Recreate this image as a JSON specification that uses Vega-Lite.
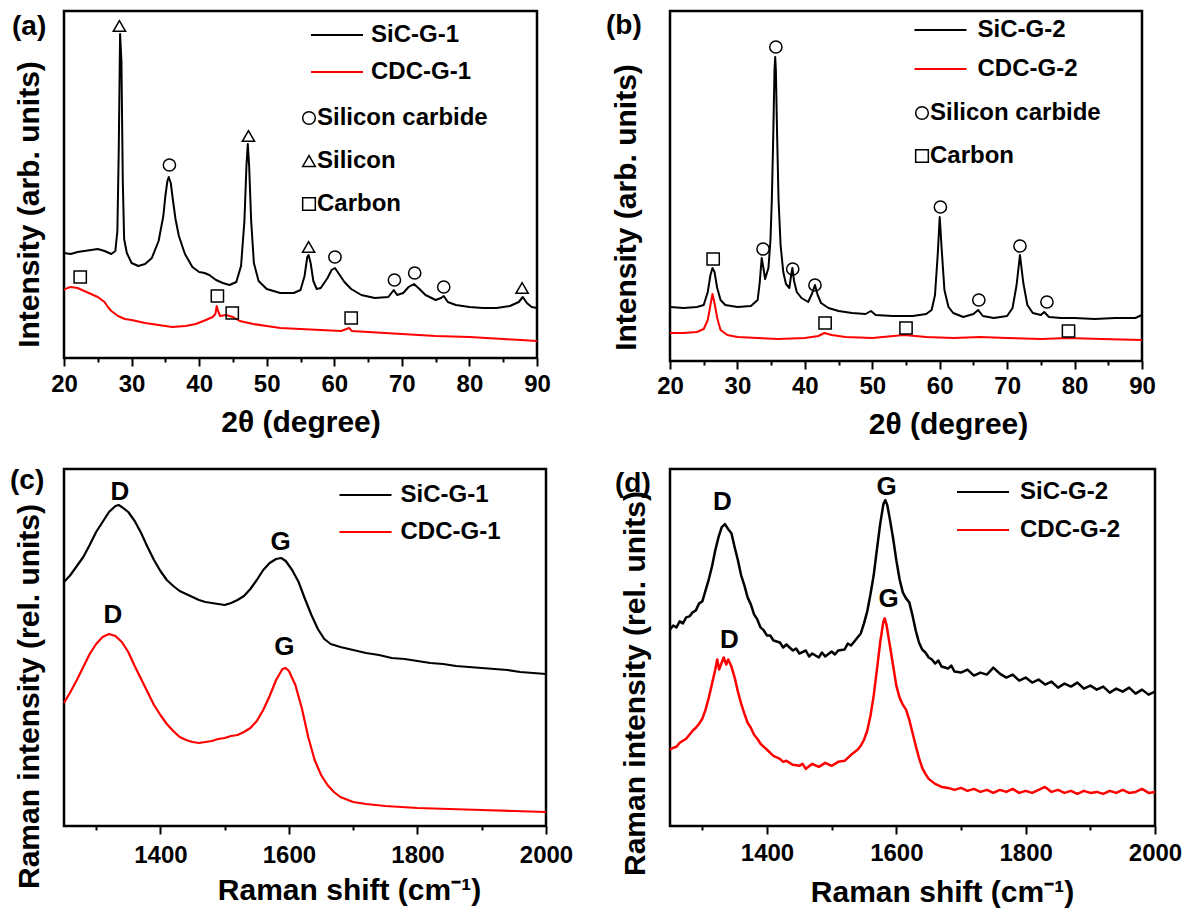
{
"$schema": "https://vega.github.io/schema/vega-lite/v6.json",
"autosize": {"type": "pad"},
"padding": {"left": 8, "top": 9, "right": 10, "bottom": 6},
"background": "white",
"config": {
 "view": {"stroke": "black", "strokeWidth": 2.5},
 "font": "Liberation Sans",
 "axis": {"grid": false, "domain": false, "labelFont": "Liberation Sans", "titleFont": "Liberation Sans", "labelColor": "black", "titleColor": "black", "tickColor": "black", "labelFontWeight": "bold", "titleFontWeight": "bold", "labelFontSize": 24, "titleFontSize": 30, "tickWidth": 2},
 "legend": {"labelFont": "Liberation Sans", "labelFontSize": 24, "labelFontWeight": "bold", "labelColor": "black", "padding": 0, "orient": "none", "labelLimit": 400},
 "title": {"font": "Liberation Sans", "fontSize": 28, "fontWeight": "bold", "color": "black", "anchor": "start", "frame": "group", "offset": 0, "baseline": "alphabetic"}
},
"datasets": {
 "xrdA": [
  {"x":20,"y":105,"s":"SiC-G-1"},{"x":21,"y":104,"s":"SiC-G-1"},{"x":22,"y":106,"s":"SiC-G-1"},{"x":23,"y":107,"s":"SiC-G-1"},{"x":24,"y":108,"s":"SiC-G-1"},{"x":25,"y":109,"s":"SiC-G-1"},{"x":26,"y":107,"s":"SiC-G-1"},{"x":27,"y":104,"s":"SiC-G-1"},{"x":27.6,"y":107,"s":"SiC-G-1"},{"x":27.9,"y":127,"s":"SiC-G-1"},{"x":28.1,"y":207,"s":"SiC-G-1"},{"x":28.3,"y":324,"s":"SiC-G-1"},{"x":28.5,"y":297,"s":"SiC-G-1"},{"x":28.7,"y":177,"s":"SiC-G-1"},{"x":28.9,"y":119,"s":"SiC-G-1"},{"x":29.3,"y":105,"s":"SiC-G-1"},{"x":30,"y":95,"s":"SiC-G-1"},{"x":31,"y":92,"s":"SiC-G-1"},{"x":32,"y":94,"s":"SiC-G-1"},{"x":33,"y":100,"s":"SiC-G-1"},{"x":34,"y":117,"s":"SiC-G-1"},{"x":34.7,"y":142,"s":"SiC-G-1"},{"x":35.0,"y":162,"s":"SiC-G-1"},{"x":35.3,"y":177,"s":"SiC-G-1"},{"x":35.5,"y":181,"s":"SiC-G-1"},{"x":35.8,"y":175,"s":"SiC-G-1"},{"x":36.1,"y":159,"s":"SiC-G-1"},{"x":36.5,"y":139,"s":"SiC-G-1"},{"x":37,"y":122,"s":"SiC-G-1"},{"x":37.9,"y":104,"s":"SiC-G-1"},{"x":39,"y":91,"s":"SiC-G-1"},{"x":40,"y":86,"s":"SiC-G-1"},{"x":40.8,"y":85,"s":"SiC-G-1"},{"x":41.5,"y":83,"s":"SiC-G-1"},{"x":42.5,"y":78,"s":"SiC-G-1"},{"x":43.5,"y":75,"s":"SiC-G-1"},{"x":44.5,"y":73,"s":"SiC-G-1"},{"x":45.5,"y":76,"s":"SiC-G-1"},{"x":46.2,"y":92,"s":"SiC-G-1"},{"x":46.7,"y":137,"s":"SiC-G-1"},{"x":47.0,"y":192,"s":"SiC-G-1"},{"x":47.2,"y":214,"s":"SiC-G-1"},{"x":47.4,"y":192,"s":"SiC-G-1"},{"x":47.7,"y":137,"s":"SiC-G-1"},{"x":48.1,"y":95,"s":"SiC-G-1"},{"x":48.8,"y":77,"s":"SiC-G-1"},{"x":50,"y":69,"s":"SiC-G-1"},{"x":52,"y":65,"s":"SiC-G-1"},{"x":54,"y":65,"s":"SiC-G-1"},{"x":55,"y":68,"s":"SiC-G-1"},{"x":55.6,"y":82,"s":"SiC-G-1"},{"x":56.0,"y":101,"s":"SiC-G-1"},{"x":56.2,"y":103,"s":"SiC-G-1"},{"x":56.5,"y":95,"s":"SiC-G-1"},{"x":56.9,"y":77,"s":"SiC-G-1"},{"x":57.4,"y":69,"s":"SiC-G-1"},{"x":58,"y":70,"s":"SiC-G-1"},{"x":59,"y":80,"s":"SiC-G-1"},{"x":59.6,"y":88,"s":"SiC-G-1"},{"x":60.1,"y":90,"s":"SiC-G-1"},{"x":60.7,"y":84,"s":"SiC-G-1"},{"x":61.5,"y":76,"s":"SiC-G-1"},{"x":62.5,"y":69,"s":"SiC-G-1"},{"x":64,"y":63,"s":"SiC-G-1"},{"x":66,"y":60,"s":"SiC-G-1"},{"x":68,"y":61,"s":"SiC-G-1"},{"x":68.8,"y":68,"s":"SiC-G-1"},{"x":69.3,"y":63,"s":"SiC-G-1"},{"x":70.2,"y":65,"s":"SiC-G-1"},{"x":71.0,"y":71,"s":"SiC-G-1"},{"x":71.8,"y":74,"s":"SiC-G-1"},{"x":72.6,"y":69,"s":"SiC-G-1"},{"x":73.5,"y":63,"s":"SiC-G-1"},{"x":75,"y":58,"s":"SiC-G-1"},{"x":75.8,"y":60,"s":"SiC-G-1"},{"x":76.2,"y":62,"s":"SiC-G-1"},{"x":76.8,"y":56,"s":"SiC-G-1"},{"x":78,"y":53,"s":"SiC-G-1"},{"x":80,"y":51,"s":"SiC-G-1"},{"x":82,"y":50,"s":"SiC-G-1"},{"x":84,"y":50,"s":"SiC-G-1"},{"x":86,"y":52,"s":"SiC-G-1"},{"x":87.3,"y":56,"s":"SiC-G-1"},{"x":87.9,"y":61,"s":"SiC-G-1"},{"x":88.5,"y":55,"s":"SiC-G-1"},{"x":89.2,"y":51,"s":"SiC-G-1"},{"x":90,"y":50,"s":"SiC-G-1"},
  {"x":20,"y":68,"s":"CDC-G-1"},{"x":20.5,"y":70,"s":"CDC-G-1"},{"x":21,"y":71,"s":"CDC-G-1"},{"x":22,"y":70,"s":"CDC-G-1"},{"x":23,"y":67,"s":"CDC-G-1"},{"x":24,"y":64,"s":"CDC-G-1"},{"x":25,"y":61,"s":"CDC-G-1"},{"x":26,"y":56,"s":"CDC-G-1"},{"x":26.5,"y":51,"s":"CDC-G-1"},{"x":27,"y":47,"s":"CDC-G-1"},{"x":28,"y":42,"s":"CDC-G-1"},{"x":29,"y":39,"s":"CDC-G-1"},{"x":30,"y":38,"s":"CDC-G-1"},{"x":32,"y":35,"s":"CDC-G-1"},{"x":34,"y":33,"s":"CDC-G-1"},{"x":36,"y":31,"s":"CDC-G-1"},{"x":38,"y":32,"s":"CDC-G-1"},{"x":39.5,"y":34,"s":"CDC-G-1"},{"x":41,"y":38,"s":"CDC-G-1"},{"x":42,"y":41,"s":"CDC-G-1"},{"x":42.4,"y":44,"s":"CDC-G-1"},{"x":42.6,"y":52,"s":"CDC-G-1"},{"x":42.8,"y":47,"s":"CDC-G-1"},{"x":43.1,"y":42,"s":"CDC-G-1"},{"x":44,"y":43,"s":"CDC-G-1"},{"x":45,"y":41,"s":"CDC-G-1"},{"x":46,"y":37,"s":"CDC-G-1"},{"x":48,"y":34,"s":"CDC-G-1"},{"x":50,"y":32,"s":"CDC-G-1"},{"x":52,"y":30,"s":"CDC-G-1"},{"x":55,"y":29,"s":"CDC-G-1"},{"x":58,"y":28,"s":"CDC-G-1"},{"x":61,"y":27,"s":"CDC-G-1"},{"x":62.2,"y":30,"s":"CDC-G-1"},{"x":62.6,"y":27,"s":"CDC-G-1"},{"x":65,"y":26,"s":"CDC-G-1"},{"x":70,"y":24,"s":"CDC-G-1"},{"x":75,"y":22,"s":"CDC-G-1"},{"x":80,"y":21,"s":"CDC-G-1"},{"x":85,"y":19,"s":"CDC-G-1"},{"x":90,"y":17,"s":"CDC-G-1"}
 ],
 "mkA": [
  {"x":28.2,"y":332,"p":"Silicon"},{"x":47.3,"y":222,"p":"Silicon"},{"x":56.2,"y":111,"p":"Silicon"},{"x":87.8,"y":70,"p":"Silicon"},
  {"x":35.6,"y":193,"p":"Silicon carbide"},{"x":60.1,"y":101,"p":"Silicon carbide"},{"x":68.9,"y":78,"p":"Silicon carbide"},{"x":71.9,"y":85,"p":"Silicon carbide"},{"x":76.2,"y":71,"p":"Silicon carbide"},
  {"x":22.4,"y":81,"p":"Carbon"},{"x":42.7,"y":62,"p":"Carbon"},{"x":44.9,"y":45,"p":"Carbon"},{"x":62.5,"y":40,"p":"Carbon"}
 ],
 "xrdB": [
  {"x":20,"y":54,"s":"SiC-G-2"},{"x":22,"y":53,"s":"SiC-G-2"},{"x":24,"y":54,"s":"SiC-G-2"},{"x":25,"y":56,"s":"SiC-G-2"},{"x":25.6,"y":69,"s":"SiC-G-2"},{"x":26.0,"y":86,"s":"SiC-G-2"},{"x":26.3,"y":93,"s":"SiC-G-2"},{"x":26.6,"y":89,"s":"SiC-G-2"},{"x":27.0,"y":73,"s":"SiC-G-2"},{"x":27.5,"y":61,"s":"SiC-G-2"},{"x":28.2,"y":56,"s":"SiC-G-2"},{"x":30,"y":54,"s":"SiC-G-2"},{"x":32,"y":55,"s":"SiC-G-2"},{"x":33.0,"y":61,"s":"SiC-G-2"},{"x":33.3,"y":78,"s":"SiC-G-2"},{"x":33.6,"y":103,"s":"SiC-G-2"},{"x":33.9,"y":91,"s":"SiC-G-2"},{"x":34.1,"y":82,"s":"SiC-G-2"},{"x":34.6,"y":93,"s":"SiC-G-2"},{"x":34.9,"y":121,"s":"SiC-G-2"},{"x":35.1,"y":161,"s":"SiC-G-2"},{"x":35.3,"y":221,"s":"SiC-G-2"},{"x":35.5,"y":291,"s":"SiC-G-2"},{"x":35.6,"y":304,"s":"SiC-G-2"},{"x":35.7,"y":291,"s":"SiC-G-2"},{"x":35.9,"y":221,"s":"SiC-G-2"},{"x":36.1,"y":161,"s":"SiC-G-2"},{"x":36.4,"y":116,"s":"SiC-G-2"},{"x":36.8,"y":89,"s":"SiC-G-2"},{"x":37.2,"y":77,"s":"SiC-G-2"},{"x":37.7,"y":73,"s":"SiC-G-2"},{"x":37.95,"y":85,"s":"SiC-G-2"},{"x":38.15,"y":93,"s":"SiC-G-2"},{"x":38.4,"y":80,"s":"SiC-G-2"},{"x":38.8,"y":69,"s":"SiC-G-2"},{"x":39.5,"y":63,"s":"SiC-G-2"},{"x":40.5,"y":59,"s":"SiC-G-2"},{"x":41.1,"y":68,"s":"SiC-G-2"},{"x":41.5,"y":76,"s":"SiC-G-2"},{"x":41.9,"y":66,"s":"SiC-G-2"},{"x":42.4,"y":58,"s":"SiC-G-2"},{"x":43.5,"y":53,"s":"SiC-G-2"},{"x":45,"y":50,"s":"SiC-G-2"},{"x":47,"y":48,"s":"SiC-G-2"},{"x":49,"y":47,"s":"SiC-G-2"},{"x":49.8,"y":50,"s":"SiC-G-2"},{"x":50.5,"y":46,"s":"SiC-G-2"},{"x":53,"y":45,"s":"SiC-G-2"},{"x":56,"y":45,"s":"SiC-G-2"},{"x":58.0,"y":47,"s":"SiC-G-2"},{"x":58.8,"y":51,"s":"SiC-G-2"},{"x":59.3,"y":66,"s":"SiC-G-2"},{"x":59.7,"y":106,"s":"SiC-G-2"},{"x":60.0,"y":144,"s":"SiC-G-2"},{"x":60.3,"y":111,"s":"SiC-G-2"},{"x":60.7,"y":71,"s":"SiC-G-2"},{"x":61.3,"y":54,"s":"SiC-G-2"},{"x":62,"y":48,"s":"SiC-G-2"},{"x":63.5,"y":44,"s":"SiC-G-2"},{"x":65.0,"y":47,"s":"SiC-G-2"},{"x":65.7,"y":51,"s":"SiC-G-2"},{"x":66.4,"y":45,"s":"SiC-G-2"},{"x":68,"y":43,"s":"SiC-G-2"},{"x":70,"y":45,"s":"SiC-G-2"},{"x":70.8,"y":53,"s":"SiC-G-2"},{"x":71.4,"y":76,"s":"SiC-G-2"},{"x":71.9,"y":106,"s":"SiC-G-2"},{"x":72.4,"y":78,"s":"SiC-G-2"},{"x":73.0,"y":56,"s":"SiC-G-2"},{"x":73.8,"y":48,"s":"SiC-G-2"},{"x":75.0,"y":46,"s":"SiC-G-2"},{"x":75.5,"y":49,"s":"SiC-G-2"},{"x":76.2,"y":44,"s":"SiC-G-2"},{"x":78,"y":43,"s":"SiC-G-2"},{"x":80,"y":43,"s":"SiC-G-2"},{"x":83,"y":42,"s":"SiC-G-2"},{"x":86,"y":43,"s":"SiC-G-2"},{"x":89,"y":43,"s":"SiC-G-2"},{"x":90,"y":46,"s":"SiC-G-2"},
  {"x":20,"y":28,"s":"CDC-G-2"},{"x":22,"y":28,"s":"CDC-G-2"},{"x":24,"y":29,"s":"CDC-G-2"},{"x":25,"y":32,"s":"CDC-G-2"},{"x":25.6,"y":41,"s":"CDC-G-2"},{"x":26.0,"y":56,"s":"CDC-G-2"},{"x":26.3,"y":67,"s":"CDC-G-2"},{"x":26.6,"y":58,"s":"CDC-G-2"},{"x":27.0,"y":43,"s":"CDC-G-2"},{"x":27.5,"y":31,"s":"CDC-G-2"},{"x":28.5,"y":26,"s":"CDC-G-2"},{"x":30,"y":24,"s":"CDC-G-2"},{"x":33,"y":23,"s":"CDC-G-2"},{"x":36,"y":22,"s":"CDC-G-2"},{"x":40,"y":23,"s":"CDC-G-2"},{"x":42,"y":25,"s":"CDC-G-2"},{"x":42.9,"y":28,"s":"CDC-G-2"},{"x":44,"y":26,"s":"CDC-G-2"},{"x":46,"y":24,"s":"CDC-G-2"},{"x":50,"y":23,"s":"CDC-G-2"},{"x":54.7,"y":26,"s":"CDC-G-2"},{"x":58,"y":24,"s":"CDC-G-2"},{"x":62,"y":23,"s":"CDC-G-2"},{"x":66,"y":24,"s":"CDC-G-2"},{"x":70,"y":23,"s":"CDC-G-2"},{"x":75,"y":22,"s":"CDC-G-2"},{"x":79,"y":23,"s":"CDC-G-2"},{"x":84,"y":22,"s":"CDC-G-2"},{"x":90,"y":21,"s":"CDC-G-2"}
 ],
 "mkB": [
  {"x":26.4,"y":102,"p":"Carbon"},{"x":43.0,"y":38,"p":"Carbon"},{"x":55.0,"y":33,"p":"Carbon"},{"x":79.1,"y":30,"p":"Carbon"},
  {"x":33.8,"y":112,"p":"Silicon carbide"},{"x":35.7,"y":314,"p":"Silicon carbide"},{"x":38.2,"y":92,"p":"Silicon carbide"},{"x":41.5,"y":76,"p":"Silicon carbide"},{"x":60.1,"y":154,"p":"Silicon carbide"},{"x":65.8,"y":61,"p":"Silicon carbide"},{"x":71.9,"y":115,"p":"Silicon carbide"},{"x":75.9,"y":59,"p":"Silicon carbide"}
 ],
 "ramC": [
  {"x":1250,"y":244,"s":"SiC-G-1"},{"x":1260,"y":251,"s":"SiC-G-1"},{"x":1270,"y":260,"s":"SiC-G-1"},{"x":1280,"y":269,"s":"SiC-G-1"},{"x":1290,"y":281,"s":"SiC-G-1"},{"x":1300,"y":294,"s":"SiC-G-1"},{"x":1310,"y":304,"s":"SiC-G-1"},{"x":1320,"y":314,"s":"SiC-G-1"},{"x":1330,"y":320,"s":"SiC-G-1"},{"x":1335,"y":321,"s":"SiC-G-1"},{"x":1340,"y":319,"s":"SiC-G-1"},{"x":1350,"y":314,"s":"SiC-G-1"},{"x":1360,"y":305,"s":"SiC-G-1"},{"x":1370,"y":293,"s":"SiC-G-1"},{"x":1380,"y":279,"s":"SiC-G-1"},{"x":1390,"y":266,"s":"SiC-G-1"},{"x":1400,"y":255,"s":"SiC-G-1"},{"x":1410,"y":246,"s":"SiC-G-1"},{"x":1420,"y":240,"s":"SiC-G-1"},{"x":1430,"y":235,"s":"SiC-G-1"},{"x":1440,"y":232,"s":"SiC-G-1"},{"x":1450,"y":229,"s":"SiC-G-1"},{"x":1460,"y":226,"s":"SiC-G-1"},{"x":1470,"y":224,"s":"SiC-G-1"},{"x":1480,"y":223,"s":"SiC-G-1"},{"x":1490,"y":222,"s":"SiC-G-1"},{"x":1500,"y":221,"s":"SiC-G-1"},{"x":1510,"y":223,"s":"SiC-G-1"},{"x":1520,"y":226,"s":"SiC-G-1"},{"x":1530,"y":230,"s":"SiC-G-1"},{"x":1540,"y":237,"s":"SiC-G-1"},{"x":1550,"y":246,"s":"SiC-G-1"},{"x":1560,"y":256,"s":"SiC-G-1"},{"x":1570,"y":263,"s":"SiC-G-1"},{"x":1580,"y":267,"s":"SiC-G-1"},{"x":1588,"y":268,"s":"SiC-G-1"},{"x":1595,"y":265,"s":"SiC-G-1"},{"x":1605,"y":256,"s":"SiC-G-1"},{"x":1615,"y":244,"s":"SiC-G-1"},{"x":1625,"y":227,"s":"SiC-G-1"},{"x":1635,"y":211,"s":"SiC-G-1"},{"x":1645,"y":197,"s":"SiC-G-1"},{"x":1655,"y":187,"s":"SiC-G-1"},{"x":1665,"y":182,"s":"SiC-G-1"},{"x":1680,"y":179,"s":"SiC-G-1"},{"x":1700,"y":176,"s":"SiC-G-1"},{"x":1720,"y":173,"s":"SiC-G-1"},{"x":1740,"y":171,"s":"SiC-G-1"},{"x":1760,"y":168,"s":"SiC-G-1"},{"x":1780,"y":167,"s":"SiC-G-1"},{"x":1800,"y":165,"s":"SiC-G-1"},{"x":1820,"y":163,"s":"SiC-G-1"},{"x":1840,"y":162,"s":"SiC-G-1"},{"x":1860,"y":160,"s":"SiC-G-1"},{"x":1880,"y":159,"s":"SiC-G-1"},{"x":1900,"y":158,"s":"SiC-G-1"},{"x":1920,"y":157,"s":"SiC-G-1"},{"x":1940,"y":156,"s":"SiC-G-1"},{"x":1960,"y":154,"s":"SiC-G-1"},{"x":1980,"y":153,"s":"SiC-G-1"},{"x":2000,"y":152,"s":"SiC-G-1"},
  {"x":1250,"y":123,"s":"CDC-G-1"},{"x":1260,"y":134,"s":"CDC-G-1"},{"x":1270,"y":146,"s":"CDC-G-1"},{"x":1280,"y":159,"s":"CDC-G-1"},{"x":1290,"y":172,"s":"CDC-G-1"},{"x":1300,"y":182,"s":"CDC-G-1"},{"x":1310,"y":189,"s":"CDC-G-1"},{"x":1320,"y":192,"s":"CDC-G-1"},{"x":1330,"y":190,"s":"CDC-G-1"},{"x":1340,"y":184,"s":"CDC-G-1"},{"x":1350,"y":174,"s":"CDC-G-1"},{"x":1360,"y":160,"s":"CDC-G-1"},{"x":1370,"y":147,"s":"CDC-G-1"},{"x":1380,"y":134,"s":"CDC-G-1"},{"x":1390,"y":121,"s":"CDC-G-1"},{"x":1400,"y":111,"s":"CDC-G-1"},{"x":1410,"y":102,"s":"CDC-G-1"},{"x":1420,"y":95,"s":"CDC-G-1"},{"x":1430,"y":89,"s":"CDC-G-1"},{"x":1440,"y":86,"s":"CDC-G-1"},{"x":1450,"y":84,"s":"CDC-G-1"},{"x":1460,"y":83,"s":"CDC-G-1"},{"x":1470,"y":84,"s":"CDC-G-1"},{"x":1480,"y":85,"s":"CDC-G-1"},{"x":1490,"y":87,"s":"CDC-G-1"},{"x":1500,"y":88,"s":"CDC-G-1"},{"x":1510,"y":90,"s":"CDC-G-1"},{"x":1520,"y":91,"s":"CDC-G-1"},{"x":1530,"y":94,"s":"CDC-G-1"},{"x":1540,"y":98,"s":"CDC-G-1"},{"x":1550,"y":105,"s":"CDC-G-1"},{"x":1560,"y":116,"s":"CDC-G-1"},{"x":1570,"y":130,"s":"CDC-G-1"},{"x":1580,"y":146,"s":"CDC-G-1"},{"x":1590,"y":157,"s":"CDC-G-1"},{"x":1595,"y":158,"s":"CDC-G-1"},{"x":1600,"y":155,"s":"CDC-G-1"},{"x":1610,"y":141,"s":"CDC-G-1"},{"x":1620,"y":118,"s":"CDC-G-1"},{"x":1630,"y":89,"s":"CDC-G-1"},{"x":1640,"y":66,"s":"CDC-G-1"},{"x":1650,"y":51,"s":"CDC-G-1"},{"x":1660,"y":41,"s":"CDC-G-1"},{"x":1670,"y":34,"s":"CDC-G-1"},{"x":1680,"y":29,"s":"CDC-G-1"},{"x":1700,"y":24,"s":"CDC-G-1"},{"x":1720,"y":22,"s":"CDC-G-1"},{"x":1750,"y":20,"s":"CDC-G-1"},{"x":1800,"y":18,"s":"CDC-G-1"},{"x":1850,"y":17,"s":"CDC-G-1"},{"x":1900,"y":16,"s":"CDC-G-1"},{"x":1950,"y":15,"s":"CDC-G-1"},{"x":2000,"y":14,"s":"CDC-G-1"}
 ],
 "pkC": [
  {"x":1337,"y":334,"t":"D"},{"x":1587,"y":284,"t":"G"},{"x":1326,"y":211,"t":"D"},{"x":1593,"y":179,"t":"G"}
 ],
 "ramD": [
  {"x":1250,"y":196,"s":"SiC-G-2"},{"x":1255,"y":200,"s":"SiC-G-2"},{"x":1260,"y":198,"s":"SiC-G-2"},{"x":1265,"y":204,"s":"SiC-G-2"},{"x":1270,"y":202,"s":"SiC-G-2"},{"x":1275,"y":208,"s":"SiC-G-2"},{"x":1280,"y":209,"s":"SiC-G-2"},{"x":1285,"y":213,"s":"SiC-G-2"},{"x":1290,"y":215,"s":"SiC-G-2"},{"x":1295,"y":222,"s":"SiC-G-2"},{"x":1300,"y":224,"s":"SiC-G-2"},{"x":1305,"y":235,"s":"SiC-G-2"},{"x":1310,"y":246,"s":"SiC-G-2"},{"x":1315,"y":259,"s":"SiC-G-2"},{"x":1320,"y":275,"s":"SiC-G-2"},{"x":1325,"y":288,"s":"SiC-G-2"},{"x":1330,"y":298,"s":"SiC-G-2"},{"x":1335,"y":301,"s":"SiC-G-2"},{"x":1340,"y":296,"s":"SiC-G-2"},{"x":1345,"y":292,"s":"SiC-G-2"},{"x":1350,"y":278,"s":"SiC-G-2"},{"x":1355,"y":265,"s":"SiC-G-2"},{"x":1360,"y":250,"s":"SiC-G-2"},{"x":1365,"y":240,"s":"SiC-G-2"},{"x":1370,"y":228,"s":"SiC-G-2"},{"x":1375,"y":221,"s":"SiC-G-2"},{"x":1380,"y":211,"s":"SiC-G-2"},{"x":1385,"y":206,"s":"SiC-G-2"},{"x":1390,"y":198,"s":"SiC-G-2"},{"x":1395,"y":195,"s":"SiC-G-2"},{"x":1400,"y":190,"s":"SiC-G-2"},{"x":1405,"y":190,"s":"SiC-G-2"},{"x":1410,"y":185,"s":"SiC-G-2"},{"x":1420,"y":183,"s":"SiC-G-2"},{"x":1425,"y":178,"s":"SiC-G-2"},{"x":1430,"y":181,"s":"SiC-G-2"},{"x":1440,"y":175,"s":"SiC-G-2"},{"x":1445,"y":177,"s":"SiC-G-2"},{"x":1450,"y":172,"s":"SiC-G-2"},{"x":1460,"y":175,"s":"SiC-G-2"},{"x":1465,"y":169,"s":"SiC-G-2"},{"x":1470,"y":172,"s":"SiC-G-2"},{"x":1480,"y":168,"s":"SiC-G-2"},{"x":1485,"y":173,"s":"SiC-G-2"},{"x":1490,"y":169,"s":"SiC-G-2"},{"x":1500,"y":174,"s":"SiC-G-2"},{"x":1505,"y":171,"s":"SiC-G-2"},{"x":1510,"y":175,"s":"SiC-G-2"},{"x":1520,"y":176,"s":"SiC-G-2"},{"x":1525,"y":182,"s":"SiC-G-2"},{"x":1530,"y":180,"s":"SiC-G-2"},{"x":1540,"y":188,"s":"SiC-G-2"},{"x":1545,"y":192,"s":"SiC-G-2"},{"x":1550,"y":202,"s":"SiC-G-2"},{"x":1555,"y":214,"s":"SiC-G-2"},{"x":1560,"y":231,"s":"SiC-G-2"},{"x":1565,"y":250,"s":"SiC-G-2"},{"x":1570,"y":276,"s":"SiC-G-2"},{"x":1575,"y":301,"s":"SiC-G-2"},{"x":1580,"y":321,"s":"SiC-G-2"},{"x":1583,"y":325,"s":"SiC-G-2"},{"x":1586,"y":320,"s":"SiC-G-2"},{"x":1590,"y":306,"s":"SiC-G-2"},{"x":1595,"y":287,"s":"SiC-G-2"},{"x":1600,"y":265,"s":"SiC-G-2"},{"x":1605,"y":246,"s":"SiC-G-2"},{"x":1610,"y":233,"s":"SiC-G-2"},{"x":1615,"y":227,"s":"SiC-G-2"},{"x":1620,"y":223,"s":"SiC-G-2"},{"x":1625,"y":210,"s":"SiC-G-2"},{"x":1630,"y":195,"s":"SiC-G-2"},{"x":1635,"y":183,"s":"SiC-G-2"},{"x":1640,"y":176,"s":"SiC-G-2"},{"x":1645,"y":173,"s":"SiC-G-2"},{"x":1650,"y":168,"s":"SiC-G-2"},{"x":1655,"y":166,"s":"SiC-G-2"},{"x":1660,"y":162,"s":"SiC-G-2"},{"x":1665,"y":165,"s":"SiC-G-2"},{"x":1670,"y":159,"s":"SiC-G-2"},{"x":1680,"y":157,"s":"SiC-G-2"},{"x":1685,"y":160,"s":"SiC-G-2"},{"x":1690,"y":154,"s":"SiC-G-2"},{"x":1700,"y":153,"s":"SiC-G-2"},{"x":1710,"y":156,"s":"SiC-G-2"},{"x":1720,"y":150,"s":"SiC-G-2"},{"x":1730,"y":153,"s":"SiC-G-2"},{"x":1740,"y":151,"s":"SiC-G-2"},{"x":1750,"y":158,"s":"SiC-G-2"},{"x":1755,"y":155,"s":"SiC-G-2"},{"x":1760,"y":152,"s":"SiC-G-2"},{"x":1770,"y":148,"s":"SiC-G-2"},{"x":1780,"y":151,"s":"SiC-G-2"},{"x":1790,"y":145,"s":"SiC-G-2"},{"x":1800,"y":148,"s":"SiC-G-2"},{"x":1810,"y":143,"s":"SiC-G-2"},{"x":1820,"y":146,"s":"SiC-G-2"},{"x":1830,"y":141,"s":"SiC-G-2"},{"x":1840,"y":144,"s":"SiC-G-2"},{"x":1850,"y":138,"s":"SiC-G-2"},{"x":1860,"y":142,"s":"SiC-G-2"},{"x":1870,"y":139,"s":"SiC-G-2"},{"x":1880,"y":143,"s":"SiC-G-2"},{"x":1890,"y":137,"s":"SiC-G-2"},{"x":1900,"y":140,"s":"SiC-G-2"},{"x":1910,"y":136,"s":"SiC-G-2"},{"x":1920,"y":139,"s":"SiC-G-2"},{"x":1930,"y":133,"s":"SiC-G-2"},{"x":1940,"y":137,"s":"SiC-G-2"},{"x":1950,"y":134,"s":"SiC-G-2"},{"x":1960,"y":138,"s":"SiC-G-2"},{"x":1970,"y":132,"s":"SiC-G-2"},{"x":1980,"y":136,"s":"SiC-G-2"},{"x":1990,"y":131,"s":"SiC-G-2"},{"x":2000,"y":134,"s":"SiC-G-2"},
  {"x":1250,"y":76,"s":"CDC-G-2"},{"x":1255,"y":78,"s":"CDC-G-2"},{"x":1260,"y":79,"s":"CDC-G-2"},{"x":1265,"y":83,"s":"CDC-G-2"},{"x":1270,"y":85,"s":"CDC-G-2"},{"x":1275,"y":87,"s":"CDC-G-2"},{"x":1280,"y":91,"s":"CDC-G-2"},{"x":1285,"y":95,"s":"CDC-G-2"},{"x":1290,"y":98,"s":"CDC-G-2"},{"x":1295,"y":102,"s":"CDC-G-2"},{"x":1300,"y":107,"s":"CDC-G-2"},{"x":1305,"y":116,"s":"CDC-G-2"},{"x":1310,"y":128,"s":"CDC-G-2"},{"x":1315,"y":142,"s":"CDC-G-2"},{"x":1320,"y":156,"s":"CDC-G-2"},{"x":1323,"y":166,"s":"CDC-G-2"},{"x":1326,"y":156,"s":"CDC-G-2"},{"x":1330,"y":163,"s":"CDC-G-2"},{"x":1333,"y":168,"s":"CDC-G-2"},{"x":1337,"y":161,"s":"CDC-G-2"},{"x":1340,"y":166,"s":"CDC-G-2"},{"x":1345,"y":159,"s":"CDC-G-2"},{"x":1350,"y":148,"s":"CDC-G-2"},{"x":1355,"y":134,"s":"CDC-G-2"},{"x":1360,"y":122,"s":"CDC-G-2"},{"x":1365,"y":112,"s":"CDC-G-2"},{"x":1370,"y":103,"s":"CDC-G-2"},{"x":1375,"y":98,"s":"CDC-G-2"},{"x":1380,"y":91,"s":"CDC-G-2"},{"x":1385,"y":87,"s":"CDC-G-2"},{"x":1390,"y":82,"s":"CDC-G-2"},{"x":1400,"y":76,"s":"CDC-G-2"},{"x":1405,"y":73,"s":"CDC-G-2"},{"x":1410,"y":70,"s":"CDC-G-2"},{"x":1420,"y":67,"s":"CDC-G-2"},{"x":1425,"y":64,"s":"CDC-G-2"},{"x":1430,"y":65,"s":"CDC-G-2"},{"x":1440,"y":61,"s":"CDC-G-2"},{"x":1450,"y":60,"s":"CDC-G-2"},{"x":1455,"y":62,"s":"CDC-G-2"},{"x":1460,"y":57,"s":"CDC-G-2"},{"x":1470,"y":62,"s":"CDC-G-2"},{"x":1480,"y":59,"s":"CDC-G-2"},{"x":1490,"y":63,"s":"CDC-G-2"},{"x":1500,"y":60,"s":"CDC-G-2"},{"x":1510,"y":64,"s":"CDC-G-2"},{"x":1520,"y":65,"s":"CDC-G-2"},{"x":1530,"y":71,"s":"CDC-G-2"},{"x":1540,"y":76,"s":"CDC-G-2"},{"x":1545,"y":80,"s":"CDC-G-2"},{"x":1550,"y":86,"s":"CDC-G-2"},{"x":1555,"y":95,"s":"CDC-G-2"},{"x":1560,"y":110,"s":"CDC-G-2"},{"x":1565,"y":130,"s":"CDC-G-2"},{"x":1570,"y":156,"s":"CDC-G-2"},{"x":1575,"y":183,"s":"CDC-G-2"},{"x":1580,"y":204,"s":"CDC-G-2"},{"x":1582,"y":207,"s":"CDC-G-2"},{"x":1585,"y":200,"s":"CDC-G-2"},{"x":1590,"y":180,"s":"CDC-G-2"},{"x":1595,"y":160,"s":"CDC-G-2"},{"x":1600,"y":140,"s":"CDC-G-2"},{"x":1605,"y":128,"s":"CDC-G-2"},{"x":1610,"y":121,"s":"CDC-G-2"},{"x":1615,"y":116,"s":"CDC-G-2"},{"x":1620,"y":106,"s":"CDC-G-2"},{"x":1625,"y":93,"s":"CDC-G-2"},{"x":1630,"y":80,"s":"CDC-G-2"},{"x":1635,"y":68,"s":"CDC-G-2"},{"x":1640,"y":58,"s":"CDC-G-2"},{"x":1645,"y":52,"s":"CDC-G-2"},{"x":1650,"y":47,"s":"CDC-G-2"},{"x":1660,"y":42,"s":"CDC-G-2"},{"x":1670,"y":39,"s":"CDC-G-2"},{"x":1680,"y":38,"s":"CDC-G-2"},{"x":1690,"y":36,"s":"CDC-G-2"},{"x":1700,"y":38,"s":"CDC-G-2"},{"x":1710,"y":35,"s":"CDC-G-2"},{"x":1720,"y":37,"s":"CDC-G-2"},{"x":1730,"y":34,"s":"CDC-G-2"},{"x":1740,"y":36,"s":"CDC-G-2"},{"x":1750,"y":33,"s":"CDC-G-2"},{"x":1760,"y":36,"s":"CDC-G-2"},{"x":1770,"y":34,"s":"CDC-G-2"},{"x":1780,"y":37,"s":"CDC-G-2"},{"x":1790,"y":33,"s":"CDC-G-2"},{"x":1800,"y":35,"s":"CDC-G-2"},{"x":1810,"y":33,"s":"CDC-G-2"},{"x":1820,"y":36,"s":"CDC-G-2"},{"x":1830,"y":39,"s":"CDC-G-2"},{"x":1840,"y":34,"s":"CDC-G-2"},{"x":1850,"y":36,"s":"CDC-G-2"},{"x":1860,"y":33,"s":"CDC-G-2"},{"x":1870,"y":35,"s":"CDC-G-2"},{"x":1880,"y":32,"s":"CDC-G-2"},{"x":1890,"y":35,"s":"CDC-G-2"},{"x":1900,"y":33,"s":"CDC-G-2"},{"x":1910,"y":34,"s":"CDC-G-2"},{"x":1920,"y":32,"s":"CDC-G-2"},{"x":1930,"y":35,"s":"CDC-G-2"},{"x":1940,"y":33,"s":"CDC-G-2"},{"x":1950,"y":36,"s":"CDC-G-2"},{"x":1960,"y":33,"s":"CDC-G-2"},{"x":1970,"y":34,"s":"CDC-G-2"},{"x":1980,"y":37,"s":"CDC-G-2"},{"x":1990,"y":33,"s":"CDC-G-2"},{"x":2000,"y":34,"s":"CDC-G-2"}
 ],
 "pkD": [
  {"x":1331,"y":323,"t":"D"},{"x":1585,"y":338,"t":"G"},{"x":1588,"y":226,"t":"G"},{"x":1342,"y":185,"t":"D"}
 ]
},
"concat": [
 {
  "width": 473, "height": 347,
  "title": {"text": "(a)", "dx": -52, "dy": 34},
  "encoding": {
   "x": {"field": "x", "type": "quantitative", "scale": {"domain": [20, 90], "nice": false, "zero": false},
    "axis": {"values": [20,25,30,35,40,45,50,55,60,65,70,75,80,85,90], "labelExpr": "datum.value % 10 === 0 ? datum.label : ''", "tickSize": {"condition": {"test": "datum.value % 10 === 0", "value": 8}, "value": 4}, "labelBaseline": "alphabetic", "labelPadding": 25, "labelFlush": false, "labelOverlap": false, "title": "2θ (degree)", "titleBaseline": "alphabetic", "titleY": 73}},
   "y": {"field": "y", "type": "quantitative", "scale": {"domain": [0, 347], "nice": false, "zero": false},
    "axis": {"labels": false, "ticks": false, "title": "Intensity (arb. units)", "titleBaseline": "alphabetic", "titleX": -25.5, "titleY": 193}}
  },
  "layer": [
   {"data": {"name": "xrdA"}, "mark": {"type": "line", "strokeWidth": 2, "strokeJoin": "round"},
    "encoding": {"color": {"field": "s", "type": "nominal", "scale": {"domain": ["SiC-G-1", "CDC-G-1"], "range": ["#000000", "#ff0000"]},
     "legend": {"title": null, "legendX": 259, "legendY": 10, "symbolType": "M-2,0H2", "symbolSize": 676, "symbolStrokeWidth": 2, "rowPadding": 11, "labelOffset": 20}}}},
   {"data": {"name": "mkA"}, "mark": {"type": "point", "filled": false, "color": "black", "strokeWidth": 1.5, "size": 150, "opacity": 1},
    "encoding": {"shape": {"field": "p", "type": "nominal", "scale": {"domain": ["Silicon carbide", "Silicon", "Carbon"], "range": ["circle", "triangle-up", "square"]},
     "legend": {"title": null, "legendX": 233, "legendY": 95, "symbolSize": 160, "symbolStrokeWidth": 1.5, "symbolStrokeColor": "black", "symbolFillColor": "white", "rowPadding": 19, "labelOffset": -4}}}}
  ]
 },
 {
  "width": 472, "height": 350,
  "title": {"text": "(b)", "dx": -64, "dy": 32.5},
  "encoding": {
   "x": {"field": "x", "type": "quantitative", "scale": {"domain": [20, 90], "nice": false, "zero": false},
    "axis": {"values": [20,25,30,35,40,45,50,55,60,65,70,75,80,85,90], "labelExpr": "datum.value % 10 === 0 ? datum.label : ''", "tickSize": {"condition": {"test": "datum.value % 10 === 0", "value": 8}, "value": 4}, "labelBaseline": "alphabetic", "labelPadding": 24, "labelFlush": false, "labelOverlap": false, "title": "2θ (degree)", "titleBaseline": "alphabetic", "titleX": 278, "titleY": 72}},
   "y": {"field": "y", "type": "quantitative", "scale": {"domain": [0, 350], "nice": false, "zero": false},
    "axis": {"labels": false, "ticks": false, "title": "Intensity (arb. units)", "titleBaseline": "alphabetic", "titleX": -35, "titleY": 196}}
  },
  "layer": [
   {"data": {"name": "xrdB"}, "mark": {"type": "line", "strokeWidth": 2, "strokeJoin": "round"},
    "encoding": {"color": {"field": "s", "type": "nominal", "scale": {"domain": ["SiC-G-2", "CDC-G-2"], "range": ["#000000", "#ff0000"]},
     "legend": {"title": null, "legendX": 256.5, "legendY": 5, "symbolType": "M-2,0H2", "symbolSize": 676, "symbolStrokeWidth": 2, "rowPadding": 13, "labelOffset": 23}}}},
   {"data": {"name": "mkB"}, "mark": {"type": "point", "filled": false, "color": "black", "strokeWidth": 1.5, "size": 150, "opacity": 1},
    "encoding": {"shape": {"field": "p", "type": "nominal", "scale": {"domain": ["Silicon carbide", "Carbon"], "range": ["circle", "square"]},
     "legend": {"title": null, "legendX": 240, "legendY": 90, "symbolSize": 160, "symbolStrokeWidth": 1.5, "symbolStrokeColor": "black", "symbolFillColor": "white", "rowPadding": 19, "labelOffset": -4}}}}
  ]
 },
 {
  "width": 482, "height": 357,
  "title": {"text": "(c)", "dx": -54, "dy": 29.5},
  "encoding": {
   "x": {"field": "x", "type": "quantitative", "scale": {"domain": [1250, 2000], "nice": false, "zero": false},
    "axis": {"values": [1300,1400,1500,1600,1700,1800,1900,2000], "format": "d", "labelExpr": "datum.value % 200 === 0 ? datum.label : ''", "tickSize": {"condition": {"test": "datum.value % 200 === 0", "value": 8}, "value": 4}, "labelBaseline": "alphabetic", "labelPadding": 28, "labelFlush": false, "labelOverlap": false, "title": "Raman shift (cm⁻¹)", "titleBaseline": "alphabetic", "titleX": 285, "titleY": 73}},
   "y": {"field": "y", "type": "quantitative", "scale": {"domain": [0, 357], "nice": false, "zero": false},
    "axis": {"labels": false, "ticks": false, "title": "Raman intensity (rel. units)", "titleBaseline": "alphabetic", "titleX": -26, "titleY": 227}}
  },
  "layer": [
   {"data": {"name": "ramC"}, "mark": {"type": "line", "strokeWidth": 2.2, "strokeJoin": "round"},
    "encoding": {"color": {"field": "s", "type": "nominal", "scale": {"domain": ["SiC-G-1", "CDC-G-1"], "range": ["#000000", "#ff0000"]},
     "legend": {"title": null, "legendX": 287.5, "legendY": 12, "symbolType": "M-2,0H2", "symbolSize": 676, "symbolStrokeWidth": 2, "rowPadding": 11, "labelOffset": 21}}}},
   {"data": {"name": "pkC"}, "mark": {"type": "text", "fontSize": 26, "fontWeight": "bold", "font": "Liberation Sans", "color": "black", "baseline": "middle", "align": "center"},
    "encoding": {"text": {"field": "t", "type": "nominal"}}}
  ]
 },
 {
  "width": 485, "height": 357,
  "title": {"text": "(d)", "dx": -55, "dy": 32.5},
  "encoding": {
   "x": {"field": "x", "type": "quantitative", "scale": {"domain": [1250, 2000], "nice": false, "zero": false},
    "axis": {"values": [1300,1400,1500,1600,1700,1800,1900,2000], "format": "d", "labelExpr": "datum.value % 200 === 0 ? datum.label : ''", "tickSize": {"condition": {"test": "datum.value % 200 === 0", "value": 8}, "value": 4}, "labelBaseline": "alphabetic", "labelPadding": 26, "labelFlush": false, "labelOverlap": false, "title": "Raman shift (cm⁻¹)", "titleBaseline": "alphabetic", "titleX": 272, "titleY": 75}},
   "y": {"field": "y", "type": "quantitative", "scale": {"domain": [0, 356], "nice": false, "zero": false},
    "axis": {"labels": false, "ticks": false, "title": "Raman intensity (rel. units)", "titleBaseline": "alphabetic", "titleX": -25.5, "titleY": 214}}
  },
  "layer": [
   {"data": {"name": "ramD"}, "mark": {"type": "line", "strokeWidth": 2.5, "strokeJoin": "round"},
    "encoding": {"color": {"field": "s", "type": "nominal", "scale": {"domain": ["SiC-G-2", "CDC-G-2"], "range": ["#000000", "#ff0000"]},
     "legend": {"title": null, "legendX": 299, "legendY": 9, "symbolType": "M-2,0H2", "symbolSize": 676, "symbolStrokeWidth": 2, "rowPadding": 12, "labelOffset": 23}}}},
   {"data": {"name": "pkD"}, "mark": {"type": "text", "fontSize": 26, "fontWeight": "bold", "font": "Liberation Sans", "color": "black", "baseline": "middle", "align": "center"},
    "encoding": {"text": {"field": "t", "type": "nominal"}}}
  ]
 }
],
"columns": 2,
"spacing": {"row": 108, "column": 124},
"bounds": "flush",
"resolve": {"scale": {"x": "independent", "y": "independent", "color": "independent", "shape": "independent"}, "axis": {"x": "independent", "y": "independent"}, "legend": {"color": "independent", "shape": "independent"}}
}
